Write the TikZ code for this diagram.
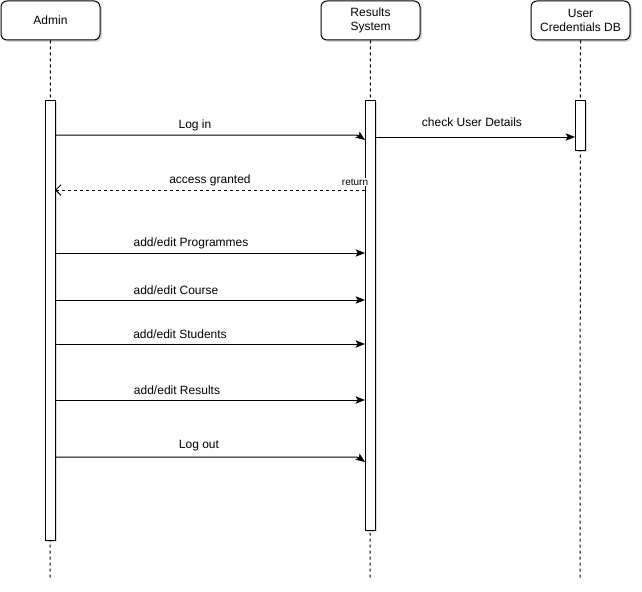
\documentclass[tikz,border=0pt]{standalone}
\usepackage{fontspec}
\setmainfont{Liberation Sans}
\usetikzlibrary{arrows.meta,shadows}

\tikzset{
    actor/.style={draw, line width=0.75pt, rounded corners=4.5pt, fill=white,
        minimum width=74.25pt, minimum height=29.25pt, align=center,
        font=\fontsize{9}{10.5}\selectfont,
        drop shadow={shadow xshift=1.5pt, shadow yshift=-1.5pt, opacity=0.3, fill=gray}},
    bar/.style={draw, line width=0.75pt, fill=white, minimum width=7.5pt, inner sep=0pt,
        drop shadow={shadow xshift=1.5pt, shadow yshift=-1.5pt, opacity=0.3, fill=gray}},
    life/.style={line width=0.75pt, dash pattern=on 2.25pt off 2.25pt},
    msg/.style={line width=0.75pt, -{Stealth[length=7pt, width=5.5pt, inset=1.5pt]}},
    reply/.style={line width=0.75pt, dash pattern=on 2.25pt off 2.25pt, -{Straight Barb[length=4pt, width=8pt]}},
    lbl/.style={font=\fontsize{9}{10.5}\selectfont, inner sep=0pt},
}

\begin{document}
\begin{tikzpicture}[x=0.75pt, y=-0.75pt]
    \useasboundingbox (0,0) rectangle (642,592);

    % Partecipanti
    \node[actor] (admin) at (50.5,20.5) {Admin};
    \node[actor] (sys) at (370.5,20.5) {Results\\System};
    \node[actor] (db) at (580.5,20.5) {User\\Credentials DB};

    \coordinate (admin-end) at (50,578);
    \coordinate (sys-end) at (370,578);
    \coordinate (db-end) at (580,578);

    % Linee di vita
    \draw[life] (admin.south) -- (admin-end);
    \draw[life] (sys.south) -- (sys-end);
    \draw[life] (db.south) -- (db-end);

    % Barre di attivazione
    \node[bar, minimum height=330pt] (adminbar) at (50,320) {};
    \node[bar, minimum height=322.5pt] (sysbar) at (370,315) {};
    \node[bar, minimum height=37.5pt] (dbbar) at (580,125) {};

    % Messaggi
    \coordinate (login-a) at (55,135);
    \coordinate (login-b) at (365,140);
    \draw[msg] (login-a) -- (345,135) .. controls (358,135) .. (login-b);
    \node[lbl] (login) at (195,125) {Log in};

    \coordinate (check-a) at (375,137);
    \coordinate (check-b) at (575,137);
    \draw[msg] (check-a) -- (check-b);
    \node[lbl] (check) at (472,122) {check User Details};

    \coordinate (grant-a) at (365,190);
    \coordinate (grant-b) at (55,190);
    \draw[reply] (grant-a) -- (grant-b);
    \node[lbl] (grant) at (210,180) {access granted};
    \node[font=\fontsize{7.5}{9}\selectfont, inner sep=0.5pt, fill=white] (ret) at (355,182) {return};

    \foreach \y/\name/\txt/\lx in {253/prog/Programmes/191, 300/course/Course/176,
                                   344/stud/Students/180, 400/res/Results/177} {
        \coordinate (\name-a) at (55,\y);
        \coordinate (\name-b) at (365,\y);
        \draw[msg] (\name-a) -- (\name-b);
        \node[lbl] (\name) at (\lx,\y-10) {add/edit \txt};
    }

    \coordinate (logout-a) at (55,457);
    \coordinate (logout-b) at (365,462);
    \draw[msg] (logout-a) -- (345,457) .. controls (358,457) .. (logout-b);
    \node[lbl] (logout) at (199,446) {Log out};
\end{tikzpicture}
\end{document}
